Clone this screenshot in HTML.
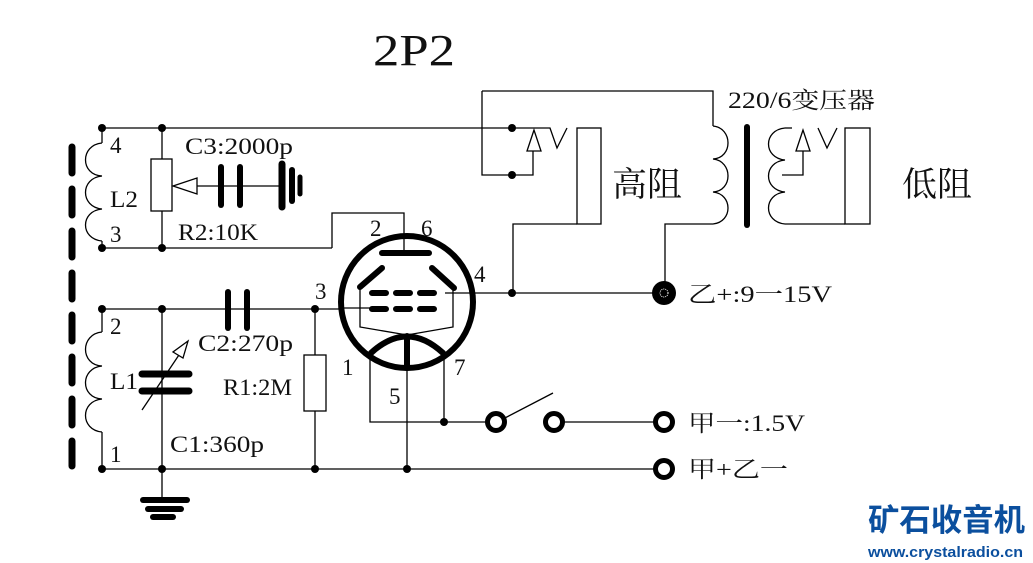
<!DOCTYPE html>
<html><head><meta charset="utf-8"><style>
html,body{margin:0;padding:0;background:#fff}
svg{display:block}
text{font-family:"Liberation Serif","Noto Serif CJK SC","Noto Sans CJK SC",serif;fill:#111}
</style></head><body>
<svg width="1033" height="563" viewBox="0 0 1033 563" xmlns="http://www.w3.org/2000/svg">
<g fill="none" stroke="#000" stroke-width="1.3">
<line x1="72" y1="147" x2="72" y2="466" stroke-width="7" stroke-linecap="round" stroke-dasharray="26 16"/>
<line x1="102" y1="128" x2="513" y2="128"/>
<line x1="102" y1="248" x2="332" y2="248"/>
<polyline points="332,248 332,213 404,213 404,253"/>
<line x1="102" y1="128" x2="102" y2="143"/>
<line x1="102" y1="241" x2="102" y2="248"/>
<path d="M102,143 C80,145 80,175 102,176 C80,178 80,207 102,209 C80,211 80,239 102,241"/>
<line x1="162" y1="128" x2="162" y2="248"/>
<rect x="151" y="159" width="21" height="52" fill="#fff"/>
<polygon points="173,186 197,178 197,194" fill="#fff"/>
<line x1="197" y1="186" x2="282" y2="186"/>
<line x1="102" y1="309" x2="300" y2="309"/>
<line x1="300" y1="309" x2="340" y2="309"/>
<line x1="340" y1="308" x2="372" y2="308"/>
<line x1="102" y1="469" x2="665" y2="469"/>
<line x1="102" y1="309" x2="102" y2="332"/>
<line x1="102" y1="432" x2="102" y2="469"/>
<path d="M102,332 C80,334 80,365 102,366 C80,368 80,398 102,399 C80,401 80,430 102,432"/>
<line x1="162" y1="309" x2="162" y2="500"/>
<line x1="142" y1="410" x2="185" y2="346"/>
<polygon points="188,341 173,352 183,358" fill="#fff"/>
<line x1="315" y1="309" x2="315" y2="469"/>
<rect x="304" y="355" width="22" height="56" fill="#fff"/>
<polyline points="360,287 360,327 407,335 453,327 453,288"/>
<line x1="445" y1="293" x2="665" y2="293"/>
<line x1="407" y1="368" x2="407" y2="469"/>
<polyline points="370,352 370,422 444,422 444,352"/>
<line x1="444" y1="422" x2="497" y2="422"/>
<line x1="553" y1="422" x2="665" y2="422"/>
<line x1="501" y1="420" x2="553" y2="393"/>
<polyline points="482,91 713,91 713,126"/>
<polyline points="482,91 482,175 533,175 533,151"/>
<polygon points="534,130 527,151 541,151" fill="#fff"/>
<polyline points="513,128 550,128 557,148 567,128"/>
<rect x="577" y="128" width="24" height="96"/>
<polyline points="513,293 513,224 577,224"/>
<polyline points="665,293 665,224 713,224"/>
<path d="M713,126 C733,128 733,158 713,159 C733,161 733,191 713,192 C733,194 733,222 713,224"/>
<path d="M785,128 C763,130 763,158 785,160 C763,162 763,190 785,192 C763,194 763,222 785,224"/>
<line x1="785" y1="128" x2="792" y2="128"/>
<polyline points="782,175 803,175 803,151"/>
<polygon points="803,130 796,151 810,151" fill="#fff"/>
<polyline points="818,128 827,148 837,128"/>
<rect x="845" y="128" width="25" height="96"/>
<line x1="785" y1="224" x2="845" y2="224"/>
</g>
<g stroke="#000" stroke-linecap="round" fill="none">
<line x1="221" y1="167" x2="221" y2="205" stroke-width="6"/>
<line x1="240" y1="167" x2="240" y2="205" stroke-width="6"/>
<line x1="282" y1="164" x2="282" y2="207" stroke-width="7"/>
<line x1="292" y1="170" x2="292" y2="201" stroke-width="6"/>
<line x1="300" y1="177" x2="300" y2="194" stroke-width="5"/>
<line x1="228" y1="292" x2="228" y2="328" stroke-width="6"/>
<line x1="247" y1="292" x2="247" y2="328" stroke-width="6"/>
<line x1="142" y1="374" x2="189" y2="374" stroke-width="7"/>
<line x1="142" y1="391" x2="189" y2="391" stroke-width="7"/>
<line x1="143" y1="500" x2="187" y2="500" stroke-width="6"/>
<line x1="148" y1="509" x2="181" y2="509" stroke-width="6"/>
<line x1="153" y1="517" x2="173" y2="517" stroke-width="6"/>
<line x1="747" y1="127" x2="747" y2="225" stroke-width="6"/>
<circle cx="407" cy="302" r="66" stroke-width="6"/>
<line x1="382" y1="253" x2="429" y2="253" stroke-width="6"/>
<line x1="360" y1="287" x2="382" y2="268" stroke-width="6"/>
<line x1="432" y1="268" x2="454" y2="288" stroke-width="6"/>
<line x1="372" y1="293" x2="440" y2="293" stroke-width="6" stroke-dasharray="14 10"/>
<line x1="372" y1="309" x2="440" y2="309" stroke-width="6" stroke-dasharray="14 10"/>
<path d="M371,353 Q407,320 443,353" stroke-width="6"/>
<line x1="407" y1="336" x2="407" y2="368" stroke-width="6"/>
</g>
<g fill="#000">
<circle cx="102" cy="128" r="4"/><circle cx="162" cy="128" r="4"/>
<circle cx="102" cy="248" r="4"/><circle cx="162" cy="248" r="4"/>
<circle cx="102" cy="309" r="4"/><circle cx="162" cy="309" r="4"/><circle cx="315" cy="309" r="4"/>
<circle cx="102" cy="469" r="4"/><circle cx="162" cy="469" r="4"/><circle cx="315" cy="469" r="4"/><circle cx="407" cy="469" r="4"/>
<circle cx="444" cy="422" r="4"/><circle cx="512" cy="293" r="4"/>
<circle cx="512" cy="128" r="4"/><circle cx="512" cy="175" r="4"/>
<circle cx="664" cy="293" r="12"/>
</g>
<circle cx="664" cy="293" r="4" fill="none" stroke="#fff" stroke-width="1" stroke-dasharray="1 1"/>
<g fill="#fff" stroke="#000" stroke-width="5">
<circle cx="496" cy="422" r="8.5"/><circle cx="554" cy="422" r="8.5"/>
<circle cx="664" cy="422" r="8.5"/><circle cx="664" cy="469" r="8.5"/>
</g>
<g font-size="23" lengthAdjust="spacingAndGlyphs">
<text x="373" y="65" font-size="44" textLength="82" lengthAdjust="spacingAndGlyphs">2P2</text>
<text x="110" y="153">4</text><text x="110" y="207" textLength="28" lengthAdjust="spacingAndGlyphs">L2</text><text x="110" y="242">3</text>
<text x="185" y="154" textLength="108" lengthAdjust="spacingAndGlyphs">C3:2000p</text>
<text x="178" y="240" textLength="80" lengthAdjust="spacingAndGlyphs">R2:10K</text>
<text x="110" y="334">2</text><text x="110" y="389" textLength="28" lengthAdjust="spacingAndGlyphs">L1</text><text x="110" y="462">1</text>
<text x="198" y="351" textLength="95" lengthAdjust="spacingAndGlyphs">C2:270p</text>
<text x="223" y="395" textLength="69" lengthAdjust="spacingAndGlyphs">R1:2M</text>
<text x="170" y="452" textLength="94" lengthAdjust="spacingAndGlyphs">C1:360p</text>
<text x="370" y="236">2</text><text x="421" y="236">6</text><text x="474" y="282">4</text>
<text x="315" y="299">3</text><text x="342" y="375">1</text><text x="454" y="375">7</text><text x="389" y="404">5</text>
<text x="728" y="108" textLength="147" lengthAdjust="spacingAndGlyphs">220/6变压器</text>
<text x="688" y="302" textLength="144" lengthAdjust="spacingAndGlyphs">乙+:9一15V</text>
<text x="688" y="431" textLength="117" lengthAdjust="spacingAndGlyphs">甲一:1.5V</text>
<text x="688" y="477" textLength="100" lengthAdjust="spacingAndGlyphs">甲+乙一</text>
<text x="612" y="196" font-size="34" textLength="70" lengthAdjust="spacingAndGlyphs">高阻</text>
<text x="902" y="196" font-size="34" textLength="70" lengthAdjust="spacingAndGlyphs">低阻</text>
</g>
<text x="868" y="531" font-size="31" font-weight="bold" textLength="157" lengthAdjust="spacingAndGlyphs" style="font-family:'Noto Sans CJK SC',sans-serif;fill:#0b4f9e">矿石收音机</text>
<text x="868" y="557" font-size="15" font-weight="bold" textLength="155" lengthAdjust="spacingAndGlyphs" style="font-family:'Liberation Sans',sans-serif;fill:#0b4f9e">www.crystalradio.cn</text>
</svg>
</body></html>
